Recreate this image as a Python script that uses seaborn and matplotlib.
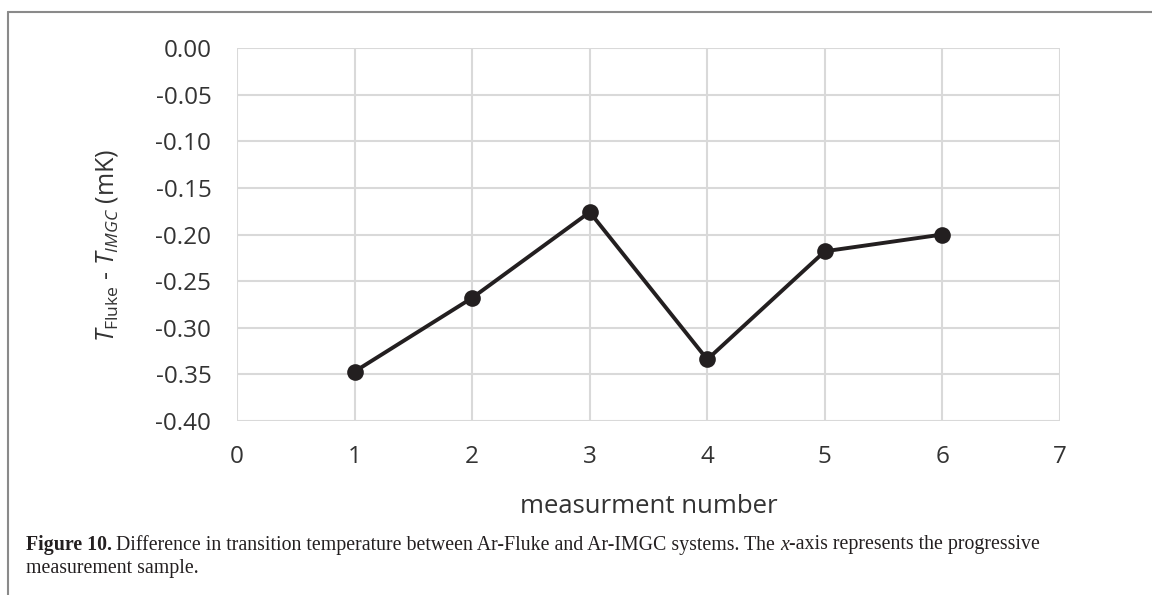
import matplotlib
matplotlib.use("Agg")
import matplotlib.pyplot as plt
import seaborn as sns
import pandas as pd
from matplotlib.lines import Line2D
from matplotlib.ticker import FormatStrFormatter

measurement = [1, 2, 3, 4, 5, 6]
delta_T = [-0.347, -0.268, -0.176, -0.334, -0.218, -0.200]
x_ticks = [0, 1, 2, 3, 4, 5, 6, 7]
y_ticks = [-0.40, -0.35, -0.30, -0.25, -0.20, -0.15, -0.10, -0.05, 0.00]

sns.set_theme(style="whitegrid")
plt.rcParams['font.family'] = ['Open Sans', 'DejaVu Sans']
plt.rcParams['mathtext.fontset'] = 'custom'
plt.rcParams['mathtext.rm'] = 'Open Sans'
plt.rcParams['mathtext.it'] = 'Open Sans:italic'

df = pd.DataFrame({"measurement": measurement, "delta": delta_T})

fig = plt.figure(figsize=(11.52, 5.95), dpi=100)
ax = fig.add_axes([237/1152, 1-421/595, (1060-237)/1152, (421-48)/595])

sns.lineplot(data=df, x="measurement", y="delta", ax=ax, color="#231f20",
             linewidth=2.8, marker="o", markersize=12, markeredgewidth=0)

ax.set_xlim(0, 7)
ax.set_ylim(-0.40, 0.00)
ax.set_xticks(x_ticks)
ax.set_yticks(y_ticks)
ax.yaxis.set_major_formatter(FormatStrFormatter('%.2f'))
ax.grid(True, color="#d9d9d9", linewidth=1.5)
for s in ax.spines.values():
    s.set_visible(False)
ax.tick_params(axis='both', length=0, labelsize=17.5, colors="#333333")
ax.tick_params(axis='x', pad=17)
ax.tick_params(axis='y', pad=18.5)

ax.set_xlabel("measurment number", fontsize=18.5, color="#333333")
ax.set_ylabel(r"$T_{\mathrm{Fluke}}$ - $T_{\mathit{IMGC}}$ (mK)", fontsize=18, color="#333333")
ax.xaxis.set_label_coords(0.5, -(494-421)/373)
ax.yaxis.set_label_coords((120-237)/823, (421-246)/373)

# frame lines
fig.add_artist(Line2D([8/1152, 8/1152], [1-12/595, 0], color="#8a8a8a", linewidth=1.5))
fig.add_artist(Line2D([8/1152, 1], [1-12/595, 1-12/595], color="#8a8a8a", linewidth=1.5))

# caption
fig.canvas.draw()
renderer = fig.canvas.get_renderer()
cap_fs = 14.3
x0 = 26/1152
y1 = 1 - 545/595
t1 = fig.text(x0, y1, "Figure 10.", family="Liberation Serif", weight="bold",
              fontsize=cap_fs, va="center", color="#231f20")
bb = t1.get_window_extent(renderer)
t2 = fig.text(bb.x1/1152 + 4/1152, y1,
              "Difference in transition temperature between Ar-Fluke and Ar-IMGC systems. The ",
              family="Liberation Serif", fontsize=cap_fs, va="center", color="#231f20")
bb = t2.get_window_extent(renderer)
t3 = fig.text(bb.x1/1152, y1, "x", family="Liberation Serif", style="italic",
              fontsize=cap_fs, va="center", color="#231f20")
bb = t3.get_window_extent(renderer)
fig.text(bb.x1/1152, y1, "-axis represents the progressive", family="Liberation Serif",
         fontsize=cap_fs, va="center", color="#231f20")
fig.text(x0, 1 - 569/595, "measurement sample.", family="Liberation Serif",
         fontsize=cap_fs, va="center", color="#231f20")

fig.savefig("out.png", dpi=100)
